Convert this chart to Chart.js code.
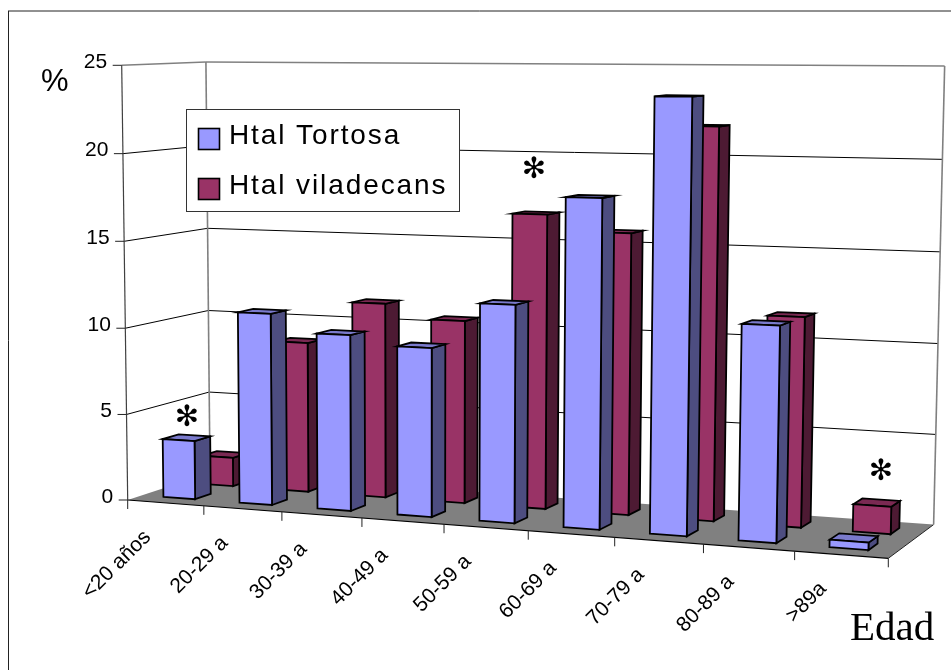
<!DOCTYPE html>
<html lang="es">
<head>
    <meta charset="UTF-8">
    <title>Edad</title>
    <script src="https://cdn.jsdelivr.net/npm/chart.js"></script>
    <style>
        html, body { margin: 0; padding: 0; background: #fff; overflow: hidden; }
        canvas { display: block; }
    </style>
</head>
<body>
    <canvas id="edadChart" width="951" height="670"></canvas>
    <script>
        const categories = ['<20 años', '20-29 a', '30-39 a', '40-49 a', '50-59 a', '60-69 a', '70-79 a', '80-89 a', '>89a'];
        const tortosa = [3.4, 11.0, 10.0, 9.5, 12.1, 18.05, 23.5, 11.6, 0.4];
        const viladecans = [1.7, 8.8, 11.3, 10.5, 16.7, 15.8, 21.75, 11.55, 1.5];
        const seriesNames = ['Htal Tortosa', 'Htal viladecans'];

        // corners of the 3D box: origin, end of the category, value and depth axes,
        // plus the homogeneous weights that give the perspective
        const O = [127.7, 500], X = [888.3, 558.3], Y = [121.7, 65.3], Z = [210, 473];
        const wx = 0.89, wy = 0.98, wz = 1.058;

        function project(u, v, w) {
            const k = 1 - u - v - w;
            const d = k + wx * u + wy * v + wz * w;
            return [
                (k * O[0] + wx * u * X[0] + wy * v * Y[0] + wz * w * Z[0]) / d,
                (k * O[1] + wx * u * X[1] + wy * v * Y[1] + wz * w * Z[1]) / d
            ];
        }

        function poly(ctx, pts, fill, stroke, lw) {
            ctx.beginPath();
            pts.forEach((p, i) => i ? ctx.lineTo(p[0], p[1]) : ctx.moveTo(p[0], p[1]));
            ctx.closePath();
            if (fill) { ctx.fillStyle = fill; ctx.fill(); }
            if (stroke) { ctx.strokeStyle = stroke; ctx.lineWidth = lw; ctx.stroke(); }
        }

        function line(ctx, a, b, color, lw) {
            ctx.beginPath();
            ctx.moveTo(a[0], a[1]);
            ctx.lineTo(b[0], b[1]);
            ctx.strokeStyle = color;
            ctx.lineWidth = lw;
            ctx.stroke();
        }

        // depth slots and face colours per series
        const rows = [[0.17, 0.36], [0.64, 0.83]];
        const barShift = -0.001;
        const faces = [
            { front: '#9999FF', side: '#4D4D80', top: '#7A7ACC' },
            { front: '#993366', side: '#4D1A33', top: '#7A2952' }
        ];

        const box3d = {
            id: 'box3d',
            beforeDatasetsDraw(chart) {
                const ctx = chart.ctx;
                const xs = chart.scales.x, ys = chart.scales.y;
                const toU = px => (px - xs.left) / xs.width;
                const toV = py => (ys.bottom - py) / ys.height;
                const vOf = val => toV(ys.getPixelForValue(val));

                ctx.save();
                ctx.lineJoin = 'miter';
                ctx.miterLimit = 10;

                // outer frame, cut off by the page on the right and bottom
                line(ctx, [8.5, 670], [8.5, 11], '#222', 1);
                line(ctx, [8, 11], [951, 11], '#222', 1);

                // floor
                poly(ctx, [project(0, 0, 0), project(1, 0, 0), project(1, 0, 1), project(0, 0, 1)], '#808080');
                line(ctx, project(0, 0, 0), project(1, 0, 0), '#000', 1.2);
                line(ctx, project(1, 0, 0), project(1, 0, 1), '#222', 1);

                // gridlines on side wall and back wall
                ys.ticks.forEach(t => {
                    const v = vOf(t.value);
                    if (v > 0) {
                        const top = t.value === ys.max;
                        const c = top ? '#808080' : '#000';
                        const lw = top ? 1.6 : 1;
                        line(ctx, project(0, v, 0), project(0, v, 1), c, lw);
                        line(ctx, project(0, v, 1), project(1, v, 1), c, lw);
                    }
                });
                line(ctx, project(0, 0, 1), project(0, 1, 1), '#808080', 1.6);
                line(ctx, project(1, 0, 1), project(1, 1, 1), '#808080', 1.6);
                line(ctx, project(0, 0, 0), project(0, 1, 0), '#404040', 1.2);

                // value axis ticks and labels
                ctx.font = '21px "Liberation Sans"';
                ctx.fillStyle = '#000';
                ctx.textAlign = 'right';
                ctx.textBaseline = 'middle';
                ys.ticks.forEach(t => {
                    const p = project(0, vOf(t.value), 0);
                    line(ctx, [p[0] - 9, p[1]], p, '#222', 1);
                    ctx.fillStyle = '#000';
                    ctx.fillText(t.label, p[0] - 14.5, p[1] - 3);
                });

                // category ticks on the boundaries, labels under each category
                const step = xs.width / categories.length;
                for (let i = 0; i <= categories.length; i++) {
                    const p = project(toU(xs.left + i * step), 0, 0);
                    line(ctx, p, [p[0], p[1] + 9], '#222', 1);
                }
                categories.forEach((name, i) => {
                    const p = project(toU(xs.getPixelForTick(i)), 0, 0);
                    ctx.save();
                    ctx.translate(p[0] - 18, p[1] + 31);
                    ctx.rotate(-Math.PI / 4);
                    ctx.fillStyle = '#000';
                    ctx.fillText(name, 0, 0);
                    ctx.restore();
                });

                // columns, back row first
                [1, 0].forEach(ds => {
                    const [w0, w1] = rows[ds];
                    const f = faces[ds];
                    chart.getDatasetMeta(ds).data.forEach(bar => {
                        const u0 = toU(bar.x - bar.width / 2) + barShift, u1 = toU(bar.x + bar.width / 2) + barShift;
                        const v = toV(bar.y);
                        const a = project(u0, 0, w0), b = project(u1, 0, w0), c = project(u1, 0, w1);
                        const d = project(u0, v, w0), e = project(u1, v, w0), g = project(u1, v, w1), h = project(u0, v, w1);
                        poly(ctx, [b, c, g, e], f.side, '#000', 1.8);
                        poly(ctx, [d, e, g, h], f.top, '#000', 1.8);
                        poly(ctx, [a, b, e, d], f.front, '#000', 1.8);
                    });
                });

                // legend box
                ctx.fillStyle = '#fff';
                ctx.fillRect(186, 109, 274, 103);
                ctx.strokeStyle = '#333';
                ctx.lineWidth = 1;
                ctx.strokeRect(186.5, 109.5, 273, 102);
                ctx.textAlign = 'left';
                ctx.textBaseline = 'alphabetic';
                ctx.font = '28px "Liberation Sans"';
                ctx.letterSpacing = '1.9px';
                chart.data.datasets.forEach((ds, i) => {
                    const y = 128.5 + i * 50;
                    ctx.fillStyle = ds.backgroundColor;
                    ctx.fillRect(198.5, y, 21, 21);
                    ctx.strokeStyle = '#000';
                    ctx.lineWidth = 1.6;
                    ctx.strokeRect(198.5, y, 21, 21);
                    ctx.fillStyle = '#000';
                    ctx.fillText(ds.label, 229, 144 + i * 50);
                });
                ctx.letterSpacing = '0px';

                // axis captions and significance marks
                ctx.font = '31px "Liberation Sans"';
                ctx.fillText('%', 41, 91);
                ctx.font = '41px "Liberation Serif"';
                ctx.fillText('Edad', 850, 640);
                ctx.font = '29px "DejaVu Sans"';
                ctx.textAlign = 'center';
                ctx.textBaseline = 'middle';
                [[187, 418], [534, 170], [881, 472]].forEach(s => ctx.fillText('✻', s[0], s[1]));

                ctx.restore();
                return false;
            }
        };

        new Chart(document.getElementById('edadChart').getContext('2d'), {
            type: 'bar',
            data: {
                labels: categories,
                datasets: [
                    { label: seriesNames[0], data: tortosa, backgroundColor: faces[0].front, grouped: false },
                    { label: seriesNames[1], data: viladecans, backgroundColor: faces[1].front, grouped: false }
                ]
            },
            options: {
                responsive: false,
                animation: false,
                barPercentage: 0.42,
                categoryPercentage: 1,
                plugins: { legend: { display: false }, tooltip: { enabled: false } },
                scales: {
                    x: { display: false },
                    y: { display: false, min: 0, max: 25, ticks: { stepSize: 5 } }
                }
            },
            plugins: [box3d]
        });
    </script>
</body>
</html>
